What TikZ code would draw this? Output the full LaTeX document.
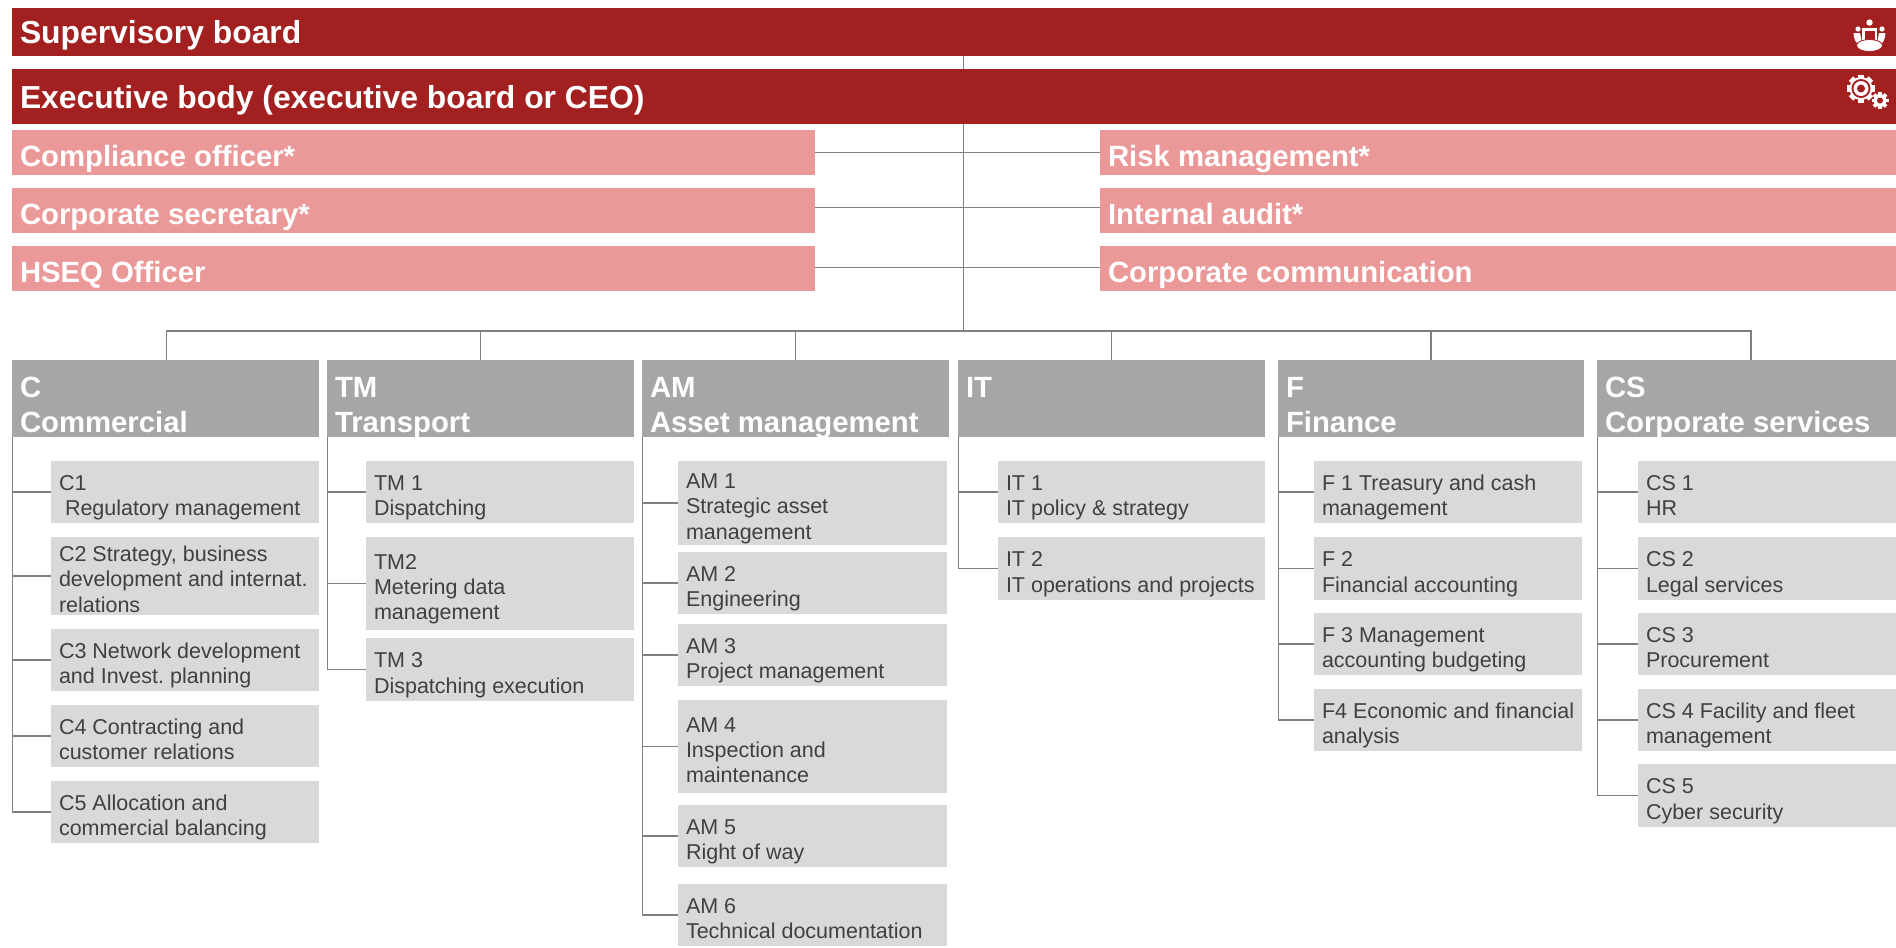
\documentclass[tikz,border=0pt]{standalone}
\usepackage{fontspec}
\setmainfont{Liberation Sans}
\definecolor{boardred}{HTML}{A32020}
\definecolor{softpink}{HTML}{EB9898}
\definecolor{headgray}{HTML}{A6A6A6}
\definecolor{itemgray}{HTML}{D9D9D9}
\definecolor{linegray}{HTML}{808080}
\definecolor{itemtext}{HTML}{404040}
\tikzset{
  boxbase/.style={anchor=center,inner xsep=4pt,inner ysep=0pt},
  topbar/.style={boxbase,fill=boardred,text=white,font=\fontsize{15.92}{19}\selectfont\bfseries\def\bxdn{3.1pt}},
  pinkbar/.style={boxbase,fill=softpink,text=white,font=\fontsize{14.65}{17.5}\selectfont\bfseries\def\bxdn{5.9pt}},
  headbox/.style={boxbase,fill=headgray,text=white,font=\fontsize{14.65}{17.5}\selectfont\bfseries\def\bxdn{8.4pt}},
  itembox/.style={boxbase,fill=itemgray,text=itemtext,font=\fontsize{10.75}{12.7}\selectfont\def\bxdn{5pt}},
  conn/.style={draw=linegray,line width=0.55pt},
  iconred/.style={fill=boardred,draw=none}
}
\newcommand\bx[7]{% style, name, x1, x2, y1, y2, text
  \pgfmathsetmacro\bxw{(#4-#3)*0.5}
  \pgfmathsetmacro\bxh{(#6-#5)*0.5}
  \pgfmathsetmacro\bxt{(#4-#3-16)*0.5}
  \node[#1,minimum width=\bxw pt,minimum height=\bxh pt] (#2) at ({(#3+#4)/2},{(#5+#6)/2}) {\parbox[c][\bxh pt][c]{\bxt pt}{\raggedright\frenchspacing\hyphenpenalty=10000 \rightskip=-30pt plus 1fil\relax\vspace*{\bxdn}\rule{0pt}{.8em}#7\rule[-.25em]{0pt}{.25em}}};
}
\newcommand\gearicon[5]{% x, y, outer r, body r, teeth
  \foreach \a in {1,...,#5}{
    \pgfmathsetmacro\ang{\a*360/#5}
    \fill[white,rotate around={\ang:(#1,#2)}] ({#1-#3*0.22},{#2-#3}) rectangle ({#1+#3*0.22},#2);
  }
  \fill[white] (#1,#2) circle[radius=#4];
}
\begin{document}
\begin{tikzpicture}[x=0.5pt,y=-0.5pt]
\useasboundingbox (0,0) rectangle (1896,948);
% top bars
\bx{topbar}{sup}{12}{1915}{8}{56}{Supervisory board}
\bx{topbar}{exec}{12}{1915}{69}{124}{Executive body (executive board or CEO)}
% staff functions
\bx{pinkbar}{comp}{12}{815}{130}{175}{Compliance officer*}
\bx{pinkbar}{secr}{12}{815}{188}{233}{Corporate secretary*}
\bx{pinkbar}{hseq}{12}{815}{246}{291}{HSEQ Officer}
\bx{pinkbar}{risk}{1100}{1915}{130}{175}{Risk management*}
\bx{pinkbar}{audit}{1100}{1915}{188}{233}{Internal audit*}
\bx{pinkbar}{ccom}{1100}{1915}{246}{291}{Corporate communication}
% headers
\bx{headbox}{C}{12}{319}{360}{437}{C\\Commercial}
\bx{headbox}{TM}{327}{634}{360}{437}{TM\\Transport}
\bx{headbox}{AM}{642}{949}{360}{437}{AM\\Asset management}
\bx{headbox}{IT}{958}{1265}{360}{437}{IT\\~}
\bx{headbox}{F}{1278}{1584}{360}{437}{F\\Finance}
\bx{headbox}{CS}{1597}{1905}{360}{437}{CS\\Corporate services}
% C
\bx{itembox}{C1}{51}{319}{461}{523}{C1\\\hspace*{3pt}Regulatory management}
\bx{itembox}{C2}{51}{319}{537}{615}{C2 Strategy, business\\development and internat.\\relations}
\bx{itembox}{C3}{51}{319}{629}{691}{C3 Network development\\and Invest. planning}
\bx{itembox}{C4}{51}{319}{705}{767}{C4 Contracting and\\customer relations}
\bx{itembox}{C5}{51}{319}{781}{843}{C5 Allocation and\\commercial balancing}
% TM
\bx{itembox}{TM1}{366}{634}{461}{523}{TM 1\\Dispatching}
\bx{itembox}{TM2}{366}{634}{537}{630}{TM2\\Metering data\\management}
\bx{itembox}{TM3}{366}{634}{638}{701}{TM 3\\Dispatching execution}
% AM
\bx{itembox}{AM1}{678}{947}{461}{545}{AM 1\\Strategic asset\\management}
\bx{itembox}{AM2}{678}{947}{552}{614}{AM 2\\Engineering}
\bx{itembox}{AM3}{678}{947}{624}{686}{AM 3\\Project management}
\bx{itembox}{AM4}{678}{947}{700}{793}{AM 4\\Inspection and\\maintenance}
\bx{itembox}{AM5}{678}{947}{805}{867}{AM 5\\Right of way}
\bx{itembox}{AM6}{678}{947}{884}{946}{AM 6\\Technical documentation}
% IT
\bx{itembox}{IT1}{998}{1265}{461}{523}{IT 1\\IT policy \& strategy}
\bx{itembox}{IT2}{998}{1265}{537}{600}{IT 2\\IT operations and projects}
% F
\bx{itembox}{F1}{1314}{1582}{461}{523}{F 1 Treasury and cash\\management}
\bx{itembox}{F2}{1314}{1582}{537}{600}{F 2\\Financial accounting}
\bx{itembox}{F3}{1314}{1582}{613}{675}{F 3 Management\\accounting budgeting}
\bx{itembox}{F4}{1314}{1582}{689}{751}{F4 Economic and financial\\analysis}
% CS
\bx{itembox}{CS1}{1638}{1905}{461}{523}{CS 1\\HR}
\bx{itembox}{CS2}{1638}{1905}{537}{600}{CS 2\\Legal services}
\bx{itembox}{CS3}{1638}{1905}{613}{675}{CS 3\\Procurement}
\bx{itembox}{CS4}{1638}{1905}{689}{751}{CS 4 Facility and fleet\\management}
\bx{itembox}{CS5}{1638}{1905}{764}{827}{CS 5\\Cyber security}
% connectors
\coordinate (bus) at (exec.south |- 0,331);
\draw[conn] (sup) -- (exec);
\draw[conn] (exec.south) -- (bus);
\draw[conn] (comp.east) -- (risk.west);
\draw[conn] ([yshift=1.7pt]secr.east) -- ([yshift=1.7pt]audit.west);
\draw[conn] ([yshift=0.7pt]hseq.east) -- ([yshift=0.7pt]ccom.west);
\draw[conn] ([xshift=0.6pt]C.north) |- (bus);
\foreach \h in {TM,AM,IT,F,CS}{ \draw[conn] (\h.north) |- (bus); }
\foreach \n in {C1,C2,C3,C4,C5}{ \draw[conn] ([xshift=0.3pt]C.south west) |- (\n.west); }
\foreach \n in {TM1,TM2,TM3}{ \draw[conn] ([xshift=0.3pt]TM.south west) |- (\n.west); }
\foreach \n in {AM1,AM2,AM3,AM4,AM5,AM6}{ \draw[conn] ([xshift=0.3pt]AM.south west) |- (\n.west); }
\foreach \n in {IT1,IT2}{ \draw[conn] ([xshift=0.3pt]IT.south west) |- (\n.west); }
\foreach \n in {F1,F2,F3,F4}{ \draw[conn] ([xshift=0.3pt]F.south west) |- (\n.west); }
\foreach \n in {CS1,CS2,CS3,CS4,CS5}{ \draw[conn] ([xshift=0.3pt]CS.south west) |- (\n.west); }
% people icon
\fill[white] (1869.5,22.5) circle[radius=3.2];
\fill[white] (1858,29) circle[radius=2.6];
\fill[white] (1882,29) circle[radius=2.6];
\fill[white] (1853.5,33) -- (1860,33) -- (1862,43) -- (1860,46) .. controls (1856,43) and (1853.5,39) .. (1853.5,33) -- cycle;
\fill[white] (1885.5,33) -- (1879,33) -- (1877,43) -- (1879,46) .. controls (1883,43) and (1885.5,39) .. (1885.5,33) -- cycle;
\fill[white] (1862,42) -- (1862,27.5) -- (1877,27.5) -- (1877,42) -- cycle;
\fill[iconred] (1864.5,42) -- (1864.5,31) -- (1874.5,31) -- (1874.5,42) -- cycle;
\fill[white,draw=boardred,line width=0.4pt] (1869.5,45.5) ellipse[x radius=13,y radius=6];
% gears icon
\gearicon{1861}{88.5}{14}{11.5}{8}
\fill[iconred] (1861,88.5) circle[radius=9.5];
\fill[white] (1861,88.5) circle[radius=7.5];
\fill[iconred] (1861,88.5) circle[radius=4];
\gearicon{1880}{100.5}{8.5}{6.5}{8}
\fill[iconred] (1880,100.5) circle[radius=3];
\end{tikzpicture}
\end{document}
